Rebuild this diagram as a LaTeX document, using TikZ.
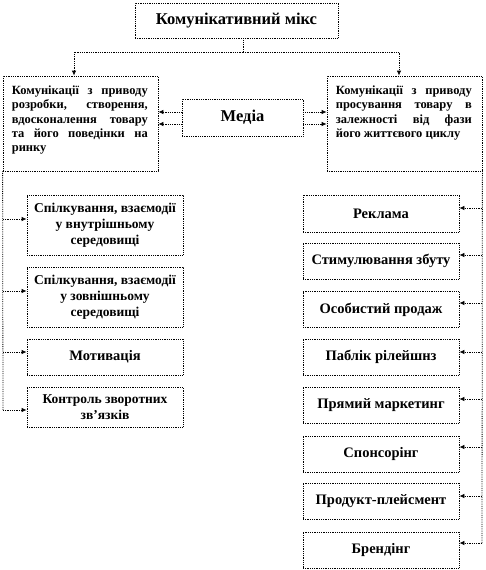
\documentclass[tikz,border=0pt]{standalone}
\usepackage{fontspec}
\setmainfont{Liberation Serif}
\usetikzlibrary{arrows.meta}
\begin{document}
\begin{tikzpicture}[x=1pt,y=-1pt,
  box/.style={draw, densely dotted, line width=0.8pt, inner sep=0pt, align=center,
    font=\bfseries\fontsize{14.5}{16}\selectfont},
  mbox/.style={box, font=\bfseries\fontsize{13.5}{16}\selectfont},
  bigbox/.style={box, font=\bfseries\fontsize{16.5}{18}\selectfont},
  txt/.style={inner sep=0pt, font=\bfseries\fontsize{12.5}{14.3}\selectfont, text width=136pt, align=justify},
  conn/.style={densely dotted, line width=0.8pt},
  arr/.style={conn, -{Latex[length=5pt,width=4.5pt]}}]
\useasboundingbox (0,0) rectangle (486,570);

% top
\node[bigbox, minimum width=203pt, minimum height=35pt] (top) at (236.5,20.5) {Комунікативний мікс};
% second level
\node[box, minimum width=155pt, minimum height=95pt] (L) at (80.5,123.5) {};
\node[txt, anchor=north west] (Lt) at ([xshift=9pt,yshift=-10pt]L.north west)
  {Комунікації з приводу\linebreak розробки, створення,\linebreak вдосконалення товару\linebreak та його поведінки на\linebreak ринку};
\node[box, minimum width=155pt, minimum height=95pt] (R) at (404.5,123.5) {};
\node[txt, anchor=north west] (Rt) at ([xshift=9pt,yshift=-10pt]R.north west)
  {Комунікації з приводу\linebreak просування товару в\linebreak залежності від фази\linebreak його життєвого циклу};
\node[bigbox, minimum width=121pt, minimum height=37pt] (M) at (242.5,117.5) {Медіа};

% left children
\node[mbox, minimum width=156pt, minimum height=60pt] (A1) at (105,225) {Спілкування, взаємодії\\у внутрішньому\\середовищі};
\node[mbox, minimum width=156pt, minimum height=60pt] (A2) at (105,297) {Спілкування, взаємодії\\у зовнішньому\\середовищі};
\node[box, minimum width=156pt, minimum height=36pt] (A3) at (105,357) {Мотивація};
\node[mbox, minimum width=156pt, minimum height=40pt] (A4) at (105,407) {Контроль зворотних\\зв’язків};

% right children
\node[box, minimum width=156pt, minimum height=37pt] (B1) at (381,213.5) {Реклама};
\node[box, minimum width=156pt, minimum height=36pt] (B2) at (381,261) {Стимулювання збуту};
\node[box, minimum width=156pt, minimum height=36pt] (B3) at (381,309.5) {Особистий продаж};
\node[box, minimum width=156pt, minimum height=36pt] (B4) at (381,357) {Паблік рілейшнз};
\node[box, minimum width=156pt, minimum height=36pt] (B5) at (381,405) {Прямий маркетинг};
\node[box, minimum width=156pt, minimum height=36pt] (B6) at (381,454) {Спонсорінг};
\node[box, minimum width=156pt, minimum height=36pt] (B7) at (381,501) {Продукт-плейсмент};
\node[box, minimum width=156pt, minimum height=36pt] (B8) at (381,550) {Брендінг};

% top connectors
\coordinate (tb) at (243,52);
\draw[conn] (top.south -| tb) -- (tb);
\draw[arr] (tb) -| ([xshift=-6.5pt]L.north);
\draw[arr] (tb) -| ([xshift=-5.5pt]R.north);

% media arrows
\draw[arr] ([yshift=5.5pt]M.west) -- ([yshift=5.5pt]M.west -| L.east);
\draw[arr] ([yshift=-6.5pt]M.west) -- ([yshift=-6.5pt]M.west -| L.east);
\draw[arr] ([yshift=5.5pt]M.east) -- ([yshift=5.5pt]M.east -| R.west);
\draw[arr] ([yshift=-6.5pt]M.east) -- ([yshift=-6.5pt]M.east -| R.west);

% left trunk
\coordinate (la1) at (3,219);
\coordinate (la2) at (3,291);
\coordinate (la3) at (3,352);
\coordinate (la4) at (3,410);
\draw[conn] (L.south west) -- (la4);
\foreach \i in {1,...,4} \draw[arr] (la\i) -- (la\i -| A\i.west);

% right trunk
\coordinate (rb1) at (482,208);
\coordinate (rb2) at (482,255);
\coordinate (rb3) at (482,303);
\coordinate (rb4) at (482,352);
\coordinate (rb5) at (482,399);
\coordinate (rb6) at (482,447);
\coordinate (rb7) at (482,496);
\coordinate (rb8) at (482,543);
\draw[conn] (R.south east) -- (rb8);
\foreach \i in {1,...,8} \draw[arr] (rb\i) -- (rb\i -| B\i.east);
\end{tikzpicture}
\end{document}
